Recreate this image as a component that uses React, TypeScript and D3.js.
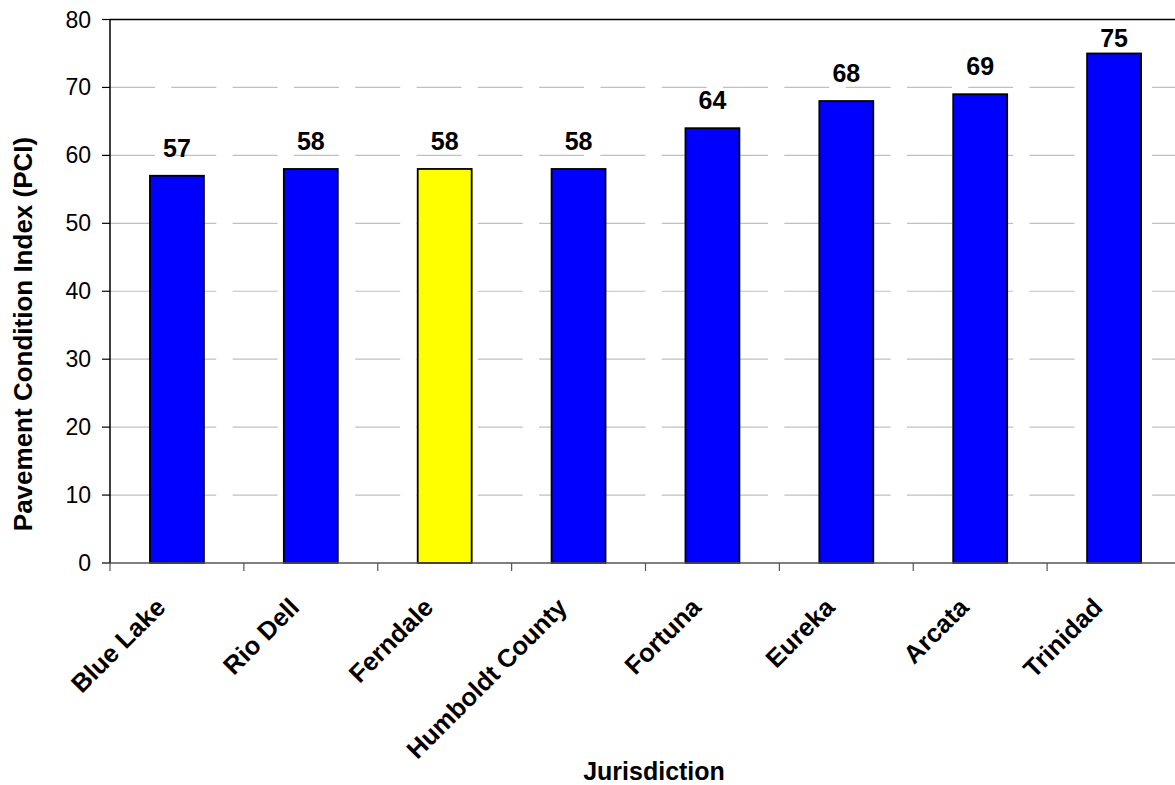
import React from "react";
import * as d3 from "d3";

const categories = ["Blue Lake", "Rio Dell", "Ferndale", "Humboldt County", "Fortuna", "Eureka", "Arcata", "Trinidad"];
const values = [57, 58, 58, 58, 64, 68, 69, 75];
const highlight = ["Ferndale"];
const yTicks = [0, 10, 20, 30, 40, 50, 60, 70, 80];

const W = 1175;
const H = 785;
const left = 110;
const right = 1181;
const top = 19.5;
const bottom = 563;

export default function App() {
  const x = d3.scaleBand<string>().domain(categories).range([left, right]).paddingInner(0).paddingOuter(0);
  const y = d3.scaleLinear().domain([0, 80]).range([bottom, top]);
  const bw = x.bandwidth();
  const barW = bw * 0.403;
  const font = "Arial, 'Liberation Sans', Helvetica, sans-serif";

  return (
    <svg width={W} height={H} style={{ position: "absolute", left: 0, top: 0, background: "#fff" }} fontFamily={font}>
      <rect x={0} y={0} width={W} height={H} fill="#fff" />
      {/* gridlines */}
      {yTicks.filter((t) => t > 0 && t < 80).map((t) => (
        <line key={"g" + t} x1={left} x2={right} y1={y(t)} y2={y(t)} stroke="#c0c0c0" strokeWidth={1.2} strokeDasharray="45 16.3" />
      ))}
      {/* top border */}
      <line x1={left} x2={right} y1={top} y2={top} stroke="#000" strokeWidth={1.5} />
      {/* bars */}
      {categories.map((c, i) => (
        <rect
          key={c}
          x={(x(c) as number) + bw / 2 - barW / 2}
          y={y(values[i])}
          width={barW}
          height={y(0) - y(values[i])}
          fill={highlight.includes(c) ? "#ffff00" : "#0000ff"}
          stroke="#000"
          strokeWidth={1.8}
        />
      ))}
      {/* value labels */}
      {categories.map((c, i) => (
        <text key={"v" + c} x={(x(c) as number) + bw / 2} y={Math.max(y(values[i]) - 19, top + 27)} textAnchor="middle" fontSize={25} fontWeight="bold" fill="#000">
          {values[i]}
        </text>
      ))}
      {/* y axis */}
      <line x1={left} x2={left} y1={top} y2={bottom} stroke="#000" strokeWidth={1.5} />
      {yTicks.map((t) => (
        <g key={"y" + t}>
          <line x1={left - 8} x2={left} y1={y(t)} y2={y(t)} stroke="#000" strokeWidth={1.2} />
          <text x={left - 19} y={y(t) + 8} textAnchor="end" fontSize={23} fill="#000">
            {t}
          </text>
        </g>
      ))}
      {/* x axis */}
      <line x1={left} x2={right} y1={bottom} y2={bottom} stroke="#555" strokeWidth={1.5} />
      {categories.map((c) => (
        <line key={"xt" + c} x1={x(c) as number} x2={x(c) as number} y1={bottom} y2={bottom + 8} stroke="#555" strokeWidth={1.2} />
      ))}
      {categories.map((c) => {
        const cx = (x(c) as number) + bw / 2 - 10;
        const cy = bottom + 46;
        return (
          <text key={"xl" + c} x={cx} y={cy} transform={`rotate(-45 ${cx} ${cy})`} textAnchor="end" fontSize={25.5} fontWeight="bold" fill="#000">
            {c}
          </text>
        );
      })}
      {/* axis titles */}
      <text x={654} y={780} textAnchor="middle" fontSize={25} fontWeight="bold" fill="#000">
        Jurisdiction
      </text>
      <text x={32} y={334} transform="rotate(-90 32 334)" textAnchor="middle" fontSize={26} fontWeight="bold" fill="#000">
        Pavement Condition Index (PCI)
      </text>
    </svg>
  );
}
